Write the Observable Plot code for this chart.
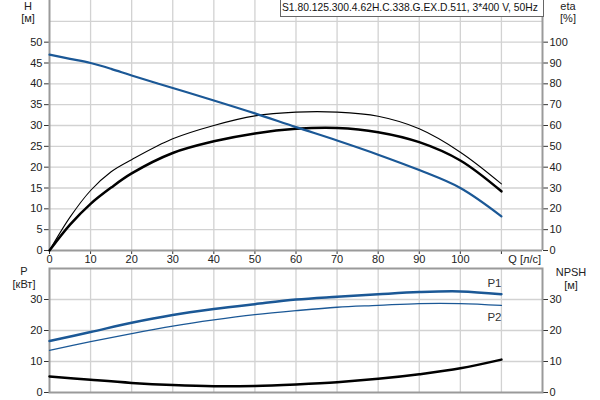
<!DOCTYPE html>
<html><head><meta charset="utf-8">
<script src="https://cdn.jsdelivr.net/npm/d3@7"></script>
<script src="https://cdn.jsdelivr.net/npm/@observablehq/plot@0.6"></script>
<style>
body{margin:0;background:#fff;font-family:Arial,"Liberation Sans",sans-serif;}
#wrap{position:relative;width:600px;height:400px;overflow:hidden;}
#wrap svg{position:absolute;left:0;}
.lbl{position:absolute;font-size:11px;color:#222;text-align:center;width:40px;line-height:12px;}
#title{position:absolute;left:280px;top:-1px;width:261px;height:16px;border:1px solid #666;background:#fff;font-size:10.3px;line-height:16px;padding-left:1px;color:#111;white-space:nowrap;overflow:hidden;}
</style></head>
<body><div id="wrap"></div>
<script>
const Q = [0, 5, 10, 15, 20, 30, 40, 50, 60, 70, 80, 90, 100, 110];
const H = [47, 46, 45, 43.6, 42, 39, 36, 32.9, 29.6, 26.4, 23.0, 19.3, 15.0, 8.2];
const etaThin = [0, 16, 28.8, 37.8, 43.6, 53.6, 60, 64.6, 66.4, 66.4, 64.4, 58.4, 47.2, 32];
const etaThick = [0, 12.4, 22.4, 30.2, 37, 46.8, 52.4, 56.2, 58.4, 58.8, 56.8, 52, 43.2, 28.4];
const Qb = [0, 10, 20, 30, 40, 50, 60, 70, 80, 90, 100, 110];
const P1 = [16.6, 19.5, 22.5, 25, 26.9, 28.5, 30, 30.9, 31.7, 32.4, 32.6, 31.7];
const P2 = [13.6, 16.4, 19.0, 21.4, 23.4, 25.1, 26.4, 27.5, 28.1, 28.7, 28.7, 28.1];
const NPSH = [5.2, 4.1, 3.1, 2.4, 2.0, 2.1, 2.6, 3.3, 4.4, 5.9, 7.8, 10.6];
const xTicks = [0, 10, 20, 30, 40, 50, 60, 70, 80, 90, 100, 110];
const hTicks = [0, 5, 10, 15, 20, 25, 30, 35, 40, 45, 50];
const pTicks = [0, 10, 20, 30];
const titleText = "S1.80.125.300.4.62H.C.338.G.EX.D.511, 3*400 V, 50Hz";

const topData = Q.map((q, i) => ({q, h: H[i], e1: etaThin[i], e2: etaThick[i]}));
const botData = Qb.map((q, i) => ({q, p1: P1[i], p2: P2[i], n: NPSH[i]}));
const blue = "#1b5896", grid = "#d2d2d2", spine = "#9a9a9a";
const fontStyle = {fontFamily: "Arial, 'Liberation Sans', sans-serif", fontSize: "11px", color: "#222", background: "transparent"};
const crv = "catmull-rom";

const topPlot = Plot.plot({
  width: 600, height: 265, marginLeft: 49, marginRight: 58, marginTop: 0, marginBottom: 15,
  style: fontStyle,
  x: {domain: [0, 120]}, y: {domain: [0, 60]},
  marks: [
    Plot.gridX(xTicks.slice(1), {stroke: grid, strokeOpacity: 1, strokeWidth: 1.3}),
    Plot.gridY(hTicks.slice(1).concat([55]), {stroke: grid, strokeOpacity: 1, strokeWidth: 1.3}),
    Plot.axisY(hTicks, {anchor: "left", tickSize: 5, tickPadding: 2, label: null, stroke: "#333"}),
    Plot.axisY(hTicks, {anchor: "right", tickSize: 5, tickPadding: 2, label: null, tickFormat: d => d * 2, stroke: "#333"}),
    Plot.axisX(xTicks, {anchor: "bottom", tickSize: 4, tickPadding: 1, label: null, tickFormat: d => d <= 100 ? d : "", stroke: "#333"}),
    Plot.ruleX([0, 120], {stroke: spine, strokeWidth: 2}),
    Plot.ruleY([0], {stroke: spine, strokeWidth: 2}),
    Plot.line(topData, {x: "q", y: d => d.e1 / 2, curve: crv, stroke: "#000", strokeWidth: 1.1}),
    Plot.line(topData, {x: "q", y: d => d.e2 / 2, curve: crv, stroke: "#000", strokeWidth: 2.5}),
    Plot.line(topData, {x: "q", y: "h", curve: crv, stroke: blue, strokeWidth: 2.2}),
  ]
});
topPlot.style.top = "0px";

const botPlot = Plot.plot({
  width: 600, height: 142, marginLeft: 49, marginRight: 58, marginTop: 10, marginBottom: 8,
  style: fontStyle,
  x: {domain: [0, 120], axis: null}, y: {domain: [0, 40]},
  marks: [
    Plot.gridX(xTicks.slice(1), {stroke: grid, strokeOpacity: 1, strokeWidth: 1.3}),
    Plot.gridY(pTicks.slice(1), {stroke: grid, strokeOpacity: 1, strokeWidth: 1.3}),
    Plot.axisY(pTicks, {anchor: "left", tickSize: 5, tickPadding: 2, label: null, stroke: "#333"}),
    Plot.axisY(pTicks, {anchor: "right", tickSize: 5, tickPadding: 2, label: null, stroke: "#333"}),
    Plot.frame({stroke: spine, strokeWidth: 2}),
    Plot.line(botData, {x: "q", y: "n", curve: crv, stroke: "#000", strokeWidth: 2.5}),
    Plot.line(botData, {x: "q", y: "p2", curve: crv, stroke: blue, strokeWidth: 1.3}),
    Plot.line(botData, {x: "q", y: "p1", curve: crv, stroke: blue, strokeWidth: 2.5}),
    Plot.text(botData.slice(-1), {x: "q", y: "p1", text: () => "P1", dx: -7, dy: -11, textAnchor: "middle", fill: "#333", fontSize: 11.5}),
    Plot.text(botData.slice(-1), {x: "q", y: "p2", text: () => "P2", dx: -7, dy: 12, textAnchor: "middle", fill: "#333", fontSize: 11.5}),
  ]
});
botPlot.style.top = "258px";

const wrap = document.getElementById("wrap");
wrap.appendChild(topPlot);
wrap.appendChild(botPlot);

function label(text, x, y) {
  const d = document.createElement("div");
  d.className = "lbl"; d.textContent = text;
  d.style.left = (x - 20) + "px"; d.style.top = y + "px";
  wrap.appendChild(d);
}
label("H", 28, 0); label("[м]", 28, 12);
label("eta", 568, 0); label("[%]", 568, 12);
label("P", 24, 265); label("[кВт]", 24, 278);
label("NPSH", 571, 266); label("[м]", 571, 279);
const ql = document.createElement("div");
ql.className = "lbl"; ql.textContent = "Q [л/с]";
ql.style.width = "60px"; ql.style.textAlign = "right";
ql.style.left = "481px"; ql.style.top = "253px";
wrap.appendChild(ql);
const t = document.createElement("div");
t.id = "title"; t.textContent = titleText;
wrap.appendChild(t);
</script></body></html>
